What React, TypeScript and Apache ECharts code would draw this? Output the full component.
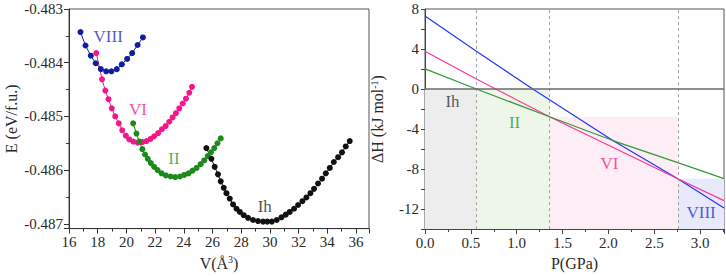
import React, { useEffect, useRef } from "react";
import * as echarts from "echarts";

// ---- Left panel: E vs V ----
const vVIII = [16.80, 17.15, 17.52, 17.86, 18.22, 18.59, 18.96, 19.33, 19.68, 20.05, 20.40, 20.78, 21.15];
const eVIII = [-0.48343, -0.48368, -0.48387, -0.48401, -0.48412, -0.48416, -0.48416, -0.48412, -0.48403, -0.48393, -0.48382, -0.48367, -0.48353];

const vVI = [17.90, 18.30, 18.53, 18.75, 18.98, 19.22, 19.47, 19.71, 19.96, 20.20, 20.48, 20.79, 21.11, 21.40, 21.68, 21.93, 22.21, 22.47, 22.73, 22.98, 23.22, 23.45, 23.68, 23.92, 24.15, 24.38, 24.57];
const eVI = [-0.48382, -0.48431, -0.48452, -0.48468, -0.48485, -0.48500, -0.48513, -0.48526, -0.48536, -0.48543, -0.48547, -0.48549, -0.48548, -0.48546, -0.48542, -0.48537, -0.48531, -0.48524, -0.48518, -0.48510, -0.48502, -0.48494, -0.48485, -0.48476, -0.48467, -0.48456, -0.48445];

const vII = [20.47, 20.70, 20.90, 21.11, 21.30, 21.49, 21.70, 21.93, 22.17, 22.45, 22.75, 23.08, 23.40, 23.73, 24.03, 24.33, 24.61, 24.89, 25.17, 25.42, 25.66, 25.89, 26.12, 26.34, 26.57];
const eII = [-0.48513, -0.48532, -0.48547, -0.48561, -0.48571, -0.48579, -0.48587, -0.48594, -0.48600, -0.48606, -0.48610, -0.48612, -0.48613, -0.48612, -0.48609, -0.48606, -0.48601, -0.48596, -0.48589, -0.48582, -0.48574, -0.48567, -0.48559, -0.48550, -0.48541];

const vIh = [25.57, 25.92, 26.15, 26.38, 26.57, 26.78, 26.97, 27.20, 27.43, 27.67, 27.90, 28.17, 28.47, 28.82, 29.17, 29.52, 29.81, 30.13, 30.47, 30.80, 31.10, 31.38, 31.68, 31.96, 32.26, 32.54, 32.82, 33.07, 33.35, 33.63, 33.89, 34.17, 34.45, 34.75, 35.02, 35.28, 35.56];
const eIh = [-0.48559, -0.48579, -0.48594, -0.48608, -0.48621, -0.48633, -0.48643, -0.48653, -0.48664, -0.48672, -0.48678, -0.48684, -0.48689, -0.48693, -0.48695, -0.48696, -0.48696, -0.48696, -0.48693, -0.48688, -0.48683, -0.48678, -0.48672, -0.48665, -0.48658, -0.48651, -0.48643, -0.48635, -0.48625, -0.48616, -0.48606, -0.48596, -0.48585, -0.48576, -0.48567, -0.48556, -0.48546];

const leftLabels = ["VIII", "VI", "II", "Ih"];
const leftLabelV = [18.73, 20.8, 23.31, 29.64];
const leftLabelE = [-0.48351, -0.48487, -0.48578, -0.48668];

// ---- Right panel: dH vs P ----
const pII = [0, 0.56, 1.358, 2.048, 2.756, 3.26];
const hII = [2.02, 0, -2.77, -5.15, -7.36, -8.95];
const pVI = [0, 0.56, 1.358, 2.756, 3.26];
const hVI = [3.77, 1.0, -2.77, -8.96, -11.15];
const pVIII = [0, 0.56, 1.175, 2.048, 2.756, 3.26];
const hVIII = [7.3, 3.78, 0, -5.15, -8.96, -11.9];

const boundaries = [0, 0.56, 1.358, 2.756, 3.26];
const phaseTops = [0, 0, -2.77, -8.96];
const phaseNames = ["Ih", "II", "VI", "VIII"];
const rightLabelP = [0.3, 0.977, 2.01, 3.01];
const rightLabelH = [-1.29, -3.33, -7.46, -12.3];

const FONT = "'Liberation Serif', 'Times New Roman', Times, serif";

const zip = (a: number[], b: number[]) => a.map((x, i) => [x, b[i]]);

export default function App() {
  const ref = useRef<HTMLDivElement>(null);
  useEffect(() => {
    if (!ref.current) return;
    const chart = echarts.init(ref.current, null, { renderer: "svg" });

    const leftColors = ["#0d1f9e", "#f5168c", "#1b8a1b", "#111111"];
    const leftLabelColors = ["#2233aa", "#ee2288", "#2a9a2a", "#222222"];
    const rightColors = { VIII: "#2233ff", VI: "#ff3399", II: "#339933" };
    const fillColors = ["#ededed", "#eef6ea", "#fdedf5", "#e8e9fb"];
    const rightLabelColors = ["#333333", "#2a9a2a", "#ee2288", "#2233dd"];

    const axisLabelStyle = { fontFamily: FONT, fontSize: 15, color: "#2a2a2a" };
    const nameStyle = {
      fontFamily: FONT,
      fontSize: 16,
      color: "#2a2a2a",
      rich: {
        s: { fontFamily: FONT, fontSize: 10, color: "#2a2a2a", padding: [0, 0, 7, 0] },
      },
    };

    const leftSeries = [
      [vVIII, eVIII],
      [vVI, eVI],
      [vII, eII],
      [vIh, eIh],
    ].map((d, i) => ({
      type: "line",
      xAxisIndex: 0,
      yAxisIndex: 0,
      data: zip(d[0], d[1]),
      symbol: "circle",
      symbolSize: 6,
      lineStyle: { color: leftColors[i], width: 1 },
      itemStyle: { color: leftColors[i] },
      z: 3,
    }));

    const markAreaData = phaseTops.map((top, i) => [
      { xAxis: boundaries[i], yAxis: top, itemStyle: { color: fillColors[i] } },
      { xAxis: boundaries[i + 1], yAxis: -14 },
    ]);

    const option: any = {
      animation: false,
      textStyle: { fontFamily: FONT },
      grid: [
        { left: 69, top: 9, width: 300, height: 221, show: true, borderColor: "#555", borderWidth: 1 },
        { left: 425, top: 9, width: 299, height: 222, show: true, borderColor: "#555", borderWidth: 1 },
      ],
      xAxis: [
        {
          gridIndex: 0,
          type: "value",
          min: 16,
          max: 36.9,
          interval: 2,
          name: "V(Å{s|3})",
          nameLocation: "middle",
          nameGap: 24,
          nameTextStyle: nameStyle,
          axisLine: { lineStyle: { color: "#333" } },
          axisTick: { length: 5, lineStyle: { color: "#333" } },
          minorTick: { show: true, splitNumber: 2, length: 3, lineStyle: { color: "#333" } },
          axisLabel: { ...axisLabelStyle, margin: 6, showMaxLabel: false },
          splitLine: { show: false },
        },
        {
          gridIndex: 1,
          type: "value",
          min: 0,
          max: 3.26,
          interval: 0.5,
          name: "P(GPa)",
          nameLocation: "middle",
          nameGap: 25,
          nameTextStyle: nameStyle,
          axisLine: { onZero: false, lineStyle: { color: "#444" } },
          axisTick: { length: 5, lineStyle: { color: "#444" } },
          minorTick: { show: true, splitNumber: 2, length: 3, lineStyle: { color: "#444" } },
          axisLabel: {
            ...axisLabelStyle,
            margin: 6,
            showMaxLabel: false,
            formatter: (v: number) => v.toFixed(1),
          },
          splitLine: { show: false },
        },
      ],
      yAxis: [
        {
          gridIndex: 0,
          type: "value",
          min: -0.48709,
          max: -0.483,
          splitNumber: 4,
          name: "E (eV/f.u.)",
          nameLocation: "middle",
          nameGap: 50,
          nameTextStyle: nameStyle,
          axisLine: { show: true, lineStyle: { color: "#333" } },
          axisTick: { show: true, length: 5, lineStyle: { color: "#333" } },
          minorTick: { show: true, splitNumber: 2, length: 3, lineStyle: { color: "#333" } },
          axisLabel: {
            ...axisLabelStyle,
            margin: 6,
            showMinLabel: false,
            formatter: (v: number) => v.toFixed(3),
          },
          splitLine: { show: false },
        },
        {
          gridIndex: 1,
          type: "value",
          min: -14,
          max: 8,
          interval: 2,
          name: "ΔH (kJ mol{s|-1})",
          nameLocation: "middle",
          nameGap: 39,
          nameTextStyle: nameStyle,
          axisLine: { show: true, onZero: false, lineStyle: { color: "#444" } },
          axisTick: { show: true, length: 4, lineStyle: { color: "#444" } },
          axisLabel: {
            ...axisLabelStyle,
            margin: 6,
            formatter: (v: number) => (Math.round(v) % 4 === 0 ? String(Math.round(v)) : ""),
          },
          splitLine: { show: false },
        },
      ],
      series: [
        ...leftSeries,
        {
          type: "scatter",
          xAxisIndex: 0,
          yAxisIndex: 0,
          symbolSize: 1,
          itemStyle: { color: "rgba(0,0,0,0)" },
          data: leftLabels.map((n, i) => ({
            value: [leftLabelV[i], leftLabelE[i], n],
            label: { color: leftLabelColors[i] },
          })),
          label: {
            show: true,
            position: "inside",
            fontFamily: FONT,
            fontSize: 17,
            formatter: (p: any) => p.value[2],
          },
          z: 5,
        },
        {
          type: "line",
          xAxisIndex: 1,
          yAxisIndex: 1,
          data: [],
          silent: true,
          z: 1,
          markArea: { silent: true, data: markAreaData },
          markLine: {
            silent: true,
            symbol: "none",
            label: { show: false },
            data: [
              ...boundaries.slice(1, 4).map((b) => ({
                xAxis: b,
                lineStyle: { color: "#a0a0a0", type: [3, 3], width: 1 },
              })),
              { yAxis: 0, lineStyle: { color: "#6a6a6a", type: "solid", width: 1.5 } },
            ],
          },
        },
        {
          type: "line",
          xAxisIndex: 1,
          yAxisIndex: 1,
          data: zip(pVIII, hVIII),
          symbol: "none",
          lineStyle: { color: rightColors.VIII, width: 1.2 },
          z: 3,
        },
        {
          type: "line",
          xAxisIndex: 1,
          yAxisIndex: 1,
          data: zip(pVI, hVI),
          symbol: "none",
          lineStyle: { color: rightColors.VI, width: 1.2 },
          z: 3,
        },
        {
          type: "line",
          xAxisIndex: 1,
          yAxisIndex: 1,
          data: zip(pII, hII),
          symbol: "none",
          lineStyle: { color: rightColors.II, width: 1.2 },
          z: 3,
        },
        {
          type: "scatter",
          xAxisIndex: 1,
          yAxisIndex: 1,
          symbolSize: 1,
          itemStyle: { color: "rgba(0,0,0,0)" },
          data: phaseNames.map((n, i) => ({
            value: [rightLabelP[i], rightLabelH[i], n],
            label: { color: rightLabelColors[i] },
          })),
          label: {
            show: true,
            position: "inside",
            fontFamily: FONT,
            fontSize: 17,
            formatter: (p: any) => p.value[2],
          },
          z: 5,
        },
      ],
    };
    chart.setOption(option);
    return () => chart.dispose();
  }, []);

  return (
    <div
      ref={ref}
      style={{ position: "absolute", left: 0, top: 0, width: 726, height: 276, background: "#fff" }}
    />
  );
}
